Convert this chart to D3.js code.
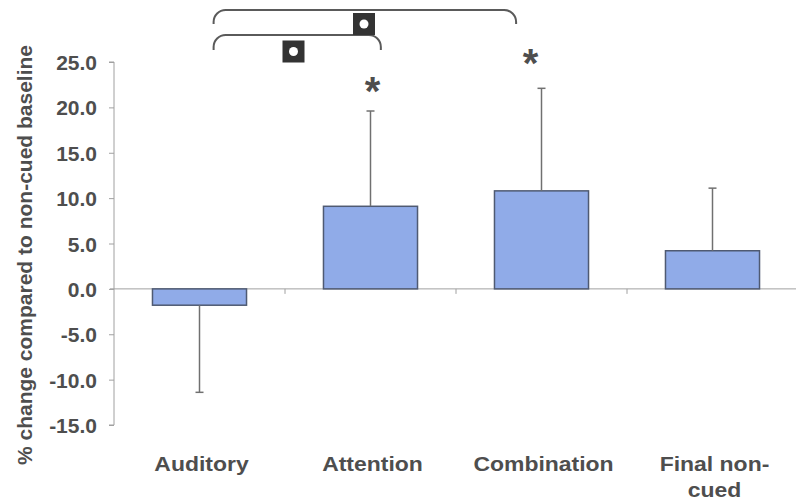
<!DOCTYPE html>
<html><head><meta charset="utf-8">
<script src="https://cdn.jsdelivr.net/npm/d3@7"></script>
<style>
html,body{margin:0;padding:0;background:#fff;}
svg{display:block;}
text{font-family:"Liberation Sans",Arial,Helvetica,sans-serif;font-weight:bold;fill:#4e4e4e;}
</style></head>
<body>
<svg id="chart" width="796" height="503"></svg>
<script>
const categories = ["Auditory", "Attention", "Combination", "Final non-cued"];
const categoryLines = [["Auditory"], ["Attention"], ["Combination"], ["Final non-", "cued"]];
const values = [-1.8, 9.1, 10.8, 4.2];
const errorEnds = [-11.4, 19.6, 22.1, 11.1];
const yTicks = [-15, -10, -5, 0, 5, 10, 15, 20, 25];
const significant = [false, true, true, false];
const yLabel = "% change compared to non-cued baseline";
// brackets: [fromCategory, toCategory]
const brackets = [["Auditory", "Attention"], ["Auditory", "Combination"]];

const svg = d3.select("#chart");
const x = d3.scaleBand().domain(categories).range([114, 798]).paddingInner(0.45).paddingOuter(0.225);
const y = d3.scaleLinear().domain([-15, 25]).range([425, 62]);

const axisColor = "#a0a0a0";
const fmt = d => d.toFixed(1);

// Y axis
const yAxis = svg.append("g").attr("transform", "translate(114,0)")
  .call(d3.axisLeft(y).tickValues(yTicks).tickFormat(fmt).tickSize(5).tickPadding(12));
yAxis.select(".domain").attr("stroke", axisColor).attr("d", `M-5,${y(25)}H0V${y(-15)}H-5`);
yAxis.selectAll(".tick line").attr("stroke", axisColor);
yAxis.selectAll(".tick text").style("font-size", "21px").attr("fill", "#4e4e4e")
  .attr("x", -17).attr("dy", "0.36em");

// X axis line at zero
svg.append("line").attr("x1", 110).attr("x2", 798).attr("y1", y(0)).attr("y2", y(0))
  .attr("stroke", axisColor).attr("stroke-width", 1);
const step = x.step();
categories.forEach((c, i) => {
  const bx = x(c) + x.bandwidth() + step * x.paddingInner() / 2;
  svg.append("line").attr("x1", bx).attr("x2", bx).attr("y1", y(0)).attr("y2", y(0) + 5)
    .attr("stroke", axisColor);
});

// Bars
svg.selectAll("rect.bar").data(categories).join("rect").attr("class", "bar")
  .attr("x", d => x(d)).attr("width", x.bandwidth())
  .attr("y", (d, i) => y(Math.max(0, values[i])))
  .attr("height", (d, i) => Math.abs(y(values[i]) - y(0)))
  .attr("fill", "#90abe8").attr("stroke", "#4f5a72").attr("stroke-width", 1.5);

// Error bars
categories.forEach((c, i) => {
  const cx = x(c) + x.bandwidth() / 2;
  svg.append("line").attr("x1", cx).attr("x2", cx).attr("y1", y(values[i])).attr("y2", y(errorEnds[i]))
    .attr("stroke", "#707070").attr("stroke-width", 1.5);
  svg.append("line").attr("x1", cx - 4).attr("x2", cx + 4).attr("y1", y(errorEnds[i])).attr("y2", y(errorEnds[i]))
    .attr("stroke", "#707070").attr("stroke-width", 1.5);
});

// Category labels
categories.forEach((c, i) => {
  const t = svg.append("text").attr("text-anchor", "middle").style("font-size", "20.5px")
    .attr("transform", `translate(${x(c) + x.bandwidth() / 2 + 2},471) scale(1.12,1)`);
  categoryLines[i].forEach((ln, j) => t.append("tspan").attr("x", 0).attr("y", j * 26).text(ln));
});

// Y label
svg.append("text").attr("text-anchor", "middle").style("font-size", "21px")
  .attr("transform", `translate(32,255) rotate(-90)`).text(yLabel);

// Asterisks
const starOffsets = [0, 2, -11, 0];
const starY = [0, 80, 52, 0];
categories.forEach((c, i) => {
  if (!significant[i]) return;
  svg.append("text").attr("text-anchor", "middle").style("font-size", "40px").attr("fill", "#484848")
    .attr("x", x(c) + x.bandwidth() / 2 + starOffsets[i]).attr("y", starY[i] + 25).text("*");
});

// Brackets
const bracketGeom = [
  {x0: 0.65, x1: 0.61, top: 35, drop: 15},
  {x0: 0.65, x1: 0.23, top: 10, drop: 14}
];
brackets.forEach((b, i) => {
  const g = bracketGeom[i];
  const xa = x(b[0]) + x.bandwidth() * g.x0;
  const xb = x(b[1]) + x.bandwidth() * g.x1;
  const r = 12;
  const p = d3.path();
  p.moveTo(xa, g.top + g.drop);
  p.arcTo(xa, g.top, xa + r, g.top, r);
  p.lineTo(xb - r, g.top);
  p.arcTo(xb, g.top, xb, g.top + g.drop, r);
  p.lineTo(xb, g.top + g.drop);
  svg.append("path").attr("d", p.toString()).attr("fill", "none").attr("stroke", "#5a5a5a").attr("stroke-width", 2);
});

// Significance square markers
const markers = [{x: 293.5, y: 51.5}, {x: 364, y: 24}];
markers.forEach(m => {
  svg.append("rect").attr("x", m.x - 11).attr("y", m.y - 11).attr("width", 22).attr("height", 22).attr("fill", "#333");
  svg.append("circle").attr("cx", m.x).attr("cy", m.y).attr("r", 4.5).attr("fill", "#fff");
});
</script>
</body></html>
